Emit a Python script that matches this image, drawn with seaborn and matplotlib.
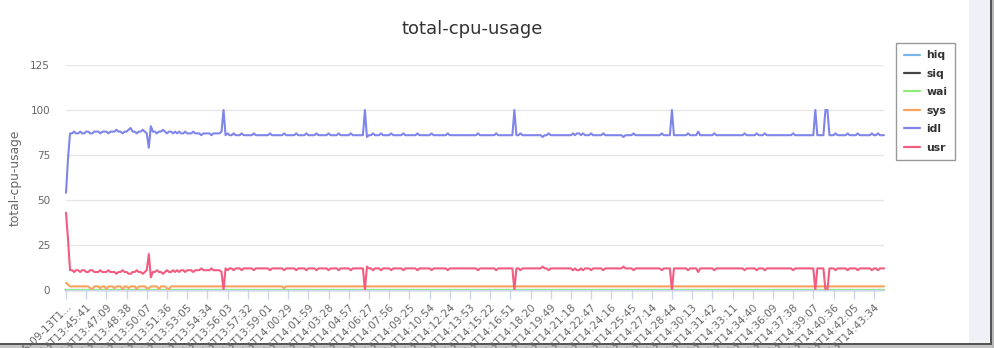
import numpy as np
import pandas as pd
import matplotlib
matplotlib.use("Agg")
import matplotlib.pyplot as plt
import seaborn as sns
from matplotlib.patches import Rectangle

series_names = ["hiq", "siq", "wai", "sys", "idl", "usr"]
series_colors = ["#7cb5ec", "#434348", "#90ed7d", "#f7a35c", "#8085e9", "#f15c80"]

tick_labels = [
    "2015-09-13T1...", "2015-09-13T13:45:41", "2015-09-13T13:47:09", "2015-09-13T13:48:38",
    "2015-09-13T13:50:07", "2015-09-13T13:51:36", "2015-09-13T13:53:05", "2015-09-13T13:54:34",
    "2015-09-13T13:56:03", "2015-09-13T13:57:32", "2015-09-13T13:59:01", "2015-09-13T14:00:29",
    "2015-09-13T14:01:59", "2015-09-13T14:03:28", "2015-09-13T14:04:57", "2015-09-13T14:06:27",
    "2015-09-13T14:07:56", "2015-09-13T14:09:25", "2015-09-13T14:10:54", "2015-09-13T14:12:24",
    "2015-09-13T14:13:53", "2015-09-13T14:15:22", "2015-09-13T14:16:51", "2015-09-13T14:18:20",
    "2015-09-13T14:19:49", "2015-09-13T14:21:18", "2015-09-13T14:22:47", "2015-09-13T14:24:16",
    "2015-09-13T14:25:45", "2015-09-13T14:27:14", "2015-09-13T14:28:44", "2015-09-13T14:30:13",
    "2015-09-13T14:31:42", "2015-09-13T14:33:11", "2015-09-13T14:34:40", "2015-09-13T14:36:09",
    "2015-09-13T14:37:38", "2015-09-13T14:39:07", "2015-09-13T14:40:36", "2015-09-13T14:42:05",
    "2015-09-13T14:43:34",
]
samples_per_tick = 10

idl = [
    54, 73, 87, 87, 88, 87, 87, 88, 87, 87,
    88, 88, 87, 87, 88, 88, 88, 87, 88, 88,
    88, 87, 88, 88, 88, 89, 88, 88, 87, 88,
    88, 89, 90, 88, 88, 87, 88, 88, 89, 88,
    87, 79, 91, 88, 88, 87, 88, 88, 89, 88,
    87, 88, 88, 87, 88, 87, 88, 87, 87, 88,
    87, 87, 87, 88, 87, 87, 87, 86, 87, 87,
    87, 87, 86, 87, 87, 87, 87, 88, 100, 86,
    87, 86, 86, 87, 86, 86, 86, 87, 86, 86,
    86, 86, 86, 87, 86, 86, 86, 86, 86, 86,
    86, 87, 86, 86, 86, 86, 86, 86, 87, 86,
    86, 86, 86, 86, 87, 86, 86, 86, 86, 87,
    86, 86, 86, 86, 87, 86, 86, 86, 86, 86,
    87, 86, 86, 86, 86, 87, 86, 86, 86, 86,
    86, 87, 86, 86, 86, 86, 86, 86, 100, 85,
    86, 86, 87, 86, 86, 86, 87, 86, 86, 86,
    86, 87, 86, 86, 86, 86, 86, 87, 86, 86,
    86, 86, 86, 86, 87, 86, 86, 86, 86, 86,
    86, 87, 86, 86, 86, 86, 86, 86, 86, 87,
    86, 86, 86, 86, 86, 86, 86, 86, 86, 86,
    86, 86, 86, 86, 87, 86, 86, 86, 86, 86,
    86, 86, 86, 87, 86, 86, 86, 86, 86, 86,
    86, 86, 100, 86, 86, 87, 86, 86, 86, 86,
    86, 86, 86, 86, 86, 86, 85, 86, 86, 87,
    86, 86, 86, 86, 86, 86, 86, 86, 86, 86,
    86, 87, 86, 87, 87, 86, 87, 86, 86, 86,
    87, 86, 86, 86, 86, 86, 87, 86, 86, 86,
    86, 86, 86, 86, 86, 86, 85, 86, 86, 86,
    86, 87, 86, 86, 86, 86, 86, 86, 86, 86,
    86, 86, 86, 86, 86, 87, 86, 86, 86, 86,
    100, 86, 86, 86, 86, 86, 86, 86, 87, 86,
    86, 86, 86, 88, 86, 86, 86, 86, 86, 86,
    86, 87, 86, 86, 86, 86, 86, 86, 86, 86,
    86, 86, 86, 86, 86, 86, 87, 86, 86, 86,
    86, 86, 87, 86, 86, 86, 87, 86, 86, 86,
    86, 86, 86, 86, 86, 86, 86, 86, 86, 86,
    87, 86, 86, 86, 86, 86, 86, 86, 86, 86,
    86, 100, 86, 86, 86, 86, 100, 100, 86, 86,
    86, 87, 86, 86, 86, 86, 86, 87, 86, 86,
    86, 86, 87, 86, 86, 86, 86, 86, 86, 87,
    86, 86, 87, 86, 86, 86,
]

usr = [
    43, 28, 11, 11, 10, 11, 11, 10, 11, 11,
    10, 10, 11, 11, 10, 10, 10, 11, 10, 10,
    10, 11, 10, 10, 10, 9, 10, 10, 11, 10,
    10, 9, 9, 10, 10, 11, 10, 10, 9, 10,
    11, 20, 7, 10, 10, 11, 10, 10, 9, 10,
    11, 10, 10, 11, 10, 11, 10, 11, 11, 10,
    11, 11, 11, 10, 11, 11, 11, 12, 11, 11,
    11, 11, 12, 11, 11, 11, 11, 10, 0, 12,
    11, 12, 12, 11, 12, 12, 12, 11, 12, 12,
    12, 12, 12, 11, 12, 12, 12, 12, 12, 12,
    12, 11, 12, 12, 12, 12, 12, 12, 11, 12,
    12, 12, 12, 12, 11, 12, 12, 12, 12, 11,
    12, 12, 12, 12, 11, 12, 12, 12, 12, 12,
    11, 12, 12, 12, 12, 11, 12, 12, 12, 12,
    12, 11, 12, 12, 12, 12, 12, 12, 0, 13,
    12, 12, 11, 12, 12, 12, 11, 12, 12, 12,
    12, 11, 12, 12, 12, 12, 12, 11, 12, 12,
    12, 12, 12, 12, 11, 12, 12, 12, 12, 12,
    12, 11, 12, 12, 12, 12, 12, 12, 12, 11,
    12, 12, 12, 12, 12, 12, 12, 12, 12, 12,
    12, 12, 12, 12, 11, 12, 12, 12, 12, 12,
    12, 12, 12, 11, 12, 12, 12, 12, 12, 12,
    12, 12, 0, 12, 12, 11, 12, 12, 12, 12,
    12, 12, 12, 12, 12, 12, 13, 12, 12, 11,
    12, 12, 12, 12, 12, 12, 12, 12, 12, 12,
    12, 11, 12, 11, 11, 12, 11, 12, 12, 12,
    11, 12, 12, 12, 12, 12, 11, 12, 12, 12,
    12, 12, 12, 12, 12, 12, 13, 12, 12, 12,
    12, 11, 12, 12, 12, 12, 12, 12, 12, 12,
    12, 12, 12, 12, 12, 11, 12, 12, 12, 12,
    0, 12, 12, 12, 12, 12, 12, 12, 11, 12,
    12, 12, 12, 10, 12, 12, 12, 12, 12, 12,
    12, 11, 12, 12, 12, 12, 12, 12, 12, 12,
    12, 12, 12, 12, 12, 12, 11, 12, 12, 12,
    12, 12, 11, 12, 12, 12, 11, 12, 12, 12,
    12, 12, 12, 12, 12, 12, 12, 12, 12, 12,
    11, 12, 12, 12, 12, 12, 12, 12, 12, 12,
    12, 0, 12, 12, 12, 12, 0, 0, 12, 12,
    12, 11, 12, 12, 12, 12, 12, 11, 12, 12,
    12, 12, 11, 12, 12, 12, 12, 12, 12, 11,
    12, 12, 11, 12, 12, 12,
]

sys_ = [
    4, 3, 2, 2, 2, 2, 2, 2, 2, 2,
    2, 2, 1, 0.5, 2, 2, 2, 1, 2, 2,
    0.5, 2, 2, 2, 1, 2, 2, 2, 0.5, 2,
    2, 1, 2, 2, 2, 0.5, 2, 2, 2, 2,
    1, 1, 2, 2, 2, 2, 0.5, 2, 2, 2,
    1, 0.5, 2, 2, 2, 2, 2, 2, 2, 2,
    2, 2, 2, 2, 2, 2, 2, 2, 2, 2,
    2, 2, 2, 2, 2, 2, 2, 2, 2, 2,
    2, 2, 2, 2, 2, 2, 2, 2, 2, 2,
    2, 2, 2, 2, 2, 2, 2, 2, 2, 2,
    2, 2, 2, 2, 2, 2, 2, 2, 1, 2,
    2, 2, 2, 2, 2, 2, 2, 2, 2, 2,
    2, 2, 2, 2, 2, 2, 2, 2, 2, 2,
    2, 2, 2, 2, 2, 2, 2, 2, 2, 2,
    2, 2, 2, 2, 2, 2, 2, 2, 2, 2,
    2, 2, 2, 2, 2, 2, 2, 2, 2, 2,
    2, 2, 2, 2, 2, 2, 2, 2, 2, 2,
    2, 2, 2, 2, 2, 2, 2, 2, 2, 2,
    2, 2, 2, 2, 2, 2, 2, 2, 2, 2,
    2, 2, 2, 2, 2, 2, 2, 2, 2, 2,
    2, 2, 2, 2, 2, 2, 2, 2, 2, 2,
    2, 2, 2, 2, 2, 2, 2, 2, 2, 2,
    2, 2, 2, 2, 2, 2, 2, 2, 2, 2,
    2, 2, 2, 2, 2, 2, 2, 2, 2, 2,
    2, 2, 2, 2, 2, 2, 2, 2, 2, 2,
    2, 2, 2, 2, 2, 2, 2, 2, 2, 2,
    2, 2, 2, 2, 2, 2, 2, 2, 2, 2,
    2, 2, 2, 2, 2, 2, 2, 2, 2, 2,
    2, 2, 2, 2, 2, 2, 2, 2, 2, 2,
    2, 2, 2, 2, 2, 2, 2, 2, 2, 2,
    2, 2, 2, 2, 2, 2, 2, 2, 2, 2,
    2, 2, 2, 2, 2, 2, 2, 2, 2, 2,
    2, 2, 2, 2, 2, 2, 2, 2, 2, 2,
    2, 2, 2, 2, 2, 2, 2, 2, 2, 2,
    2, 2, 2, 2, 2, 2, 2, 2, 2, 2,
    2, 2, 2, 2, 2, 2, 2, 2, 2, 2,
    2, 2, 2, 2, 2, 2, 2, 2, 2, 2,
    2, 2, 2, 2, 2, 2, 2, 2, 2, 2,
    2, 2, 2, 2, 2, 2, 2, 2, 2, 2,
    2, 2, 2, 2, 2, 2, 2, 2, 2, 2,
    2, 2, 2, 2, 2, 2,
]

wai = [
    0, 0, 0, 0, 0, 0, 0, 0, 0, 0, 0, 0, 0, 0, 0, 0, 0, 0, 0, 0, 0, 0, 0, 0, 0, 0, 0, 0, 0,
    0, 0, 0, 0, 0, 0, 0, 0, 0, 0, 0, 0, 0, 0, 0, 0, 0, 0, 0, 0, 0, 0, 0, 0, 0, 0, 0, 0, 0,
    0, 0, 0, 0, 0, 0, 0, 0, 0, 0, 0, 0, 0, 0, 0, 0, 0, 0, 0, 0, 0, 0, 0, 0, 0, 0, 0, 0, 0,
    0, 0, 0, 0, 0, 0, 0, 0, 0, 0, 0, 0, 0, 0, 0, 0, 0, 0, 0, 0, 0, 0, 0, 0, 0, 0, 0, 0, 0,
    0, 0, 0, 0, 0, 0, 0, 0, 0, 0, 0, 0, 0, 0, 0, 0, 0, 0, 0, 0, 0, 0, 0, 0, 0, 0, 0, 0, 0,
    0, 0, 0, 0, 0, 0, 0, 0, 0, 0, 0, 0, 0, 0, 0, 0, 0, 0, 0, 0, 0, 0, 0, 0, 0, 0, 0, 0, 0,
    0, 0, 0, 0, 0, 0, 0, 0, 0, 0, 0, 0, 0, 0, 0, 0, 0, 0, 0, 0, 0, 0, 0, 0, 0, 0, 0, 0, 0,
    0, 0, 0, 0, 0, 0, 0, 0, 0, 0, 0, 0, 0, 0, 0, 0, 0, 0, 0, 0, 0, 0, 0, 0, 0, 0, 0, 0, 0,
    0, 0, 0, 0, 0, 0, 0, 0, 0, 0, 0, 0, 0, 0, 0, 0, 0, 0, 0, 0, 0, 0, 0, 0, 0, 0, 0, 0, 0,
    0, 0, 0, 0, 0, 0, 0, 0, 0, 0, 0, 0, 0, 0, 0, 0, 0, 0, 0, 0, 0, 0, 0, 0, 0, 0, 0, 0, 0,
    0, 0, 0, 0, 0, 0, 0, 0, 0, 0, 0, 0, 0, 0, 0, 0, 0, 0, 0, 0, 0, 0, 0, 0, 0, 0, 0, 0, 0,
    0, 0, 0, 0, 0, 0, 0, 0, 0, 0, 0, 0, 0, 0, 0, 0, 0, 0, 0, 0, 0, 0, 0, 0, 0, 0, 0, 0, 0,
    0, 0, 0, 0, 0, 0, 0, 0, 0, 0, 0, 0, 0, 0, 0, 0, 0, 0, 0, 0, 0, 0, 0, 0, 0, 0, 0, 0, 0,
    0, 0, 0, 0, 0, 0, 0, 0, 0, 0, 0, 0, 0, 0, 0, 0, 0, 0, 0, 0, 0, 0, 0, 0, 0, 0, 0, 0, 0,
]

siq = [
    0, 0, 0, 0, 0, 0, 0, 0, 0, 0, 0, 0, 0, 0, 0, 0, 0, 0, 0, 0, 0, 0, 0, 0, 0, 0, 0, 0, 0,
    0, 0, 0, 0, 0, 0, 0, 0, 0, 0, 0, 0, 0, 0, 0, 0, 0, 0, 0, 0, 0, 0, 0, 0, 0, 0, 0, 0, 0,
    0, 0, 0, 0, 0, 0, 0, 0, 0, 0, 0, 0, 0, 0, 0, 0, 0, 0, 0, 0, 0, 0, 0, 0, 0, 0, 0, 0, 0,
    0, 0, 0, 0, 0, 0, 0, 0, 0, 0, 0, 0, 0, 0, 0, 0, 0, 0, 0, 0, 0, 0, 0, 0, 0, 0, 0, 0, 0,
    0, 0, 0, 0, 0, 0, 0, 0, 0, 0, 0, 0, 0, 0, 0, 0, 0, 0, 0, 0, 0, 0, 0, 0, 0, 0, 0, 0, 0,
    0, 0, 0, 0, 0, 0, 0, 0, 0, 0, 0, 0, 0, 0, 0, 0, 0, 0, 0, 0, 0, 0, 0, 0, 0, 0, 0, 0, 0,
    0, 0, 0, 0, 0, 0, 0, 0, 0, 0, 0, 0, 0, 0, 0, 0, 0, 0, 0, 0, 0, 0, 0, 0, 0, 0, 0, 0, 0,
    0, 0, 0, 0, 0, 0, 0, 0, 0, 0, 0, 0, 0, 0, 0, 0, 0, 0, 0, 0, 0, 0, 0, 0, 0, 0, 0, 0, 0,
    0, 0, 0, 0, 0, 0, 0, 0, 0, 0, 0, 0, 0, 0, 0, 0, 0, 0, 0, 0, 0, 0, 0, 0, 0, 0, 0, 0, 0,
    0, 0, 0, 0, 0, 0, 0, 0, 0, 0, 0, 0, 0, 0, 0, 0, 0, 0, 0, 0, 0, 0, 0, 0, 0, 0, 0, 0, 0,
    0, 0, 0, 0, 0, 0, 0, 0, 0, 0, 0, 0, 0, 0, 0, 0, 0, 0, 0, 0, 0, 0, 0, 0, 0, 0, 0, 0, 0,
    0, 0, 0, 0, 0, 0, 0, 0, 0, 0, 0, 0, 0, 0, 0, 0, 0, 0, 0, 0, 0, 0, 0, 0, 0, 0, 0, 0, 0,
    0, 0, 0, 0, 0, 0, 0, 0, 0, 0, 0, 0, 0, 0, 0, 0, 0, 0, 0, 0, 0, 0, 0, 0, 0, 0, 0, 0, 0,
    0, 0, 0, 0, 0, 0, 0, 0, 0, 0, 0, 0, 0, 0, 0, 0, 0, 0, 0, 0, 0, 0, 0, 0, 0, 0, 0, 0, 0,
]

hiq = [
    0, 0, 0, 0, 0, 0, 0, 0, 0, 0, 0, 0, 0, 0, 0, 0, 0, 0, 0, 0, 0, 0, 0, 0, 0, 0, 0, 0, 0,
    0, 0, 0, 0, 0, 0, 0, 0, 0, 0, 0, 0, 0, 0, 0, 0, 0, 0, 0, 0, 0, 0, 0, 0, 0, 0, 0, 0, 0,
    0, 0, 0, 0, 0, 0, 0, 0, 0, 0, 0, 0, 0, 0, 0, 0, 0, 0, 0, 0, 0, 0, 0, 0, 0, 0, 0, 0, 0,
    0, 0, 0, 0, 0, 0, 0, 0, 0, 0, 0, 0, 0, 0, 0, 0, 0, 0, 0, 0, 0, 0, 0, 0, 0, 0, 0, 0, 0,
    0, 0, 0, 0, 0, 0, 0, 0, 0, 0, 0, 0, 0, 0, 0, 0, 0, 0, 0, 0, 0, 0, 0, 0, 0, 0, 0, 0, 0,
    0, 0, 0, 0, 0, 0, 0, 0, 0, 0, 0, 0, 0, 0, 0, 0, 0, 0, 0, 0, 0, 0, 0, 0, 0, 0, 0, 0, 0,
    0, 0, 0, 0, 0, 0, 0, 0, 0, 0, 0, 0, 0, 0, 0, 0, 0, 0, 0, 0, 0, 0, 0, 0, 0, 0, 0, 0, 0,
    0, 0, 0, 0, 0, 0, 0, 0, 0, 0, 0, 0, 0, 0, 0, 0, 0, 0, 0, 0, 0, 0, 0, 0, 0, 0, 0, 0, 0,
    0, 0, 0, 0, 0, 0, 0, 0, 0, 0, 0, 0, 0, 0, 0, 0, 0, 0, 0, 0, 0, 0, 0, 0, 0, 0, 0, 0, 0,
    0, 0, 0, 0, 0, 0, 0, 0, 0, 0, 0, 0, 0, 0, 0, 0, 0, 0, 0, 0, 0, 0, 0, 0, 0, 0, 0, 0, 0,
    0, 0, 0, 0, 0, 0, 0, 0, 0, 0, 0, 0, 0, 0, 0, 0, 0, 0, 0, 0, 0, 0, 0, 0, 0, 0, 0, 0, 0,
    0, 0, 0, 0, 0, 0, 0, 0, 0, 0, 0, 0, 0, 0, 0, 0, 0, 0, 0, 0, 0, 0, 0, 0, 0, 0, 0, 0, 0,
    0, 0, 0, 0, 0, 0, 0, 0, 0, 0, 0, 0, 0, 0, 0, 0, 0, 0, 0, 0, 0, 0, 0, 0, 0, 0, 0, 0, 0,
    0, 0, 0, 0, 0, 0, 0, 0, 0, 0, 0, 0, 0, 0, 0, 0, 0, 0, 0, 0, 0, 0, 0, 0, 0, 0, 0, 0, 0,
]

y_ticks = [0, 25, 50, 75, 100, 125]

# ---------------------------------------------------------------
series_values = {"hiq": hiq, "siq": siq, "wai": wai, "sys": sys_, "idl": idl, "usr": usr}
frames = []
for name in series_names:
    vals = series_values[name]
    frames.append(pd.DataFrame({"idx": np.arange(len(vals)), "value": vals, "series": name}))
df = pd.concat(frames, ignore_index=True)
n_points = len(idl)

sns.set_theme(style="white")
plt.rcParams["font.family"] = ["DejaVu Sans"]

W, H = 994, 348
fig = plt.figure(figsize=(W / 100, H / 100), dpi=100, facecolor="white")

# screenshot frame decorations
fig.patches.append(Rectangle((969 / W, 5 / H), 21 / W, 1 - 5 / H, transform=fig.transFigure,
                             facecolor="#eef2f6", edgecolor="none", zorder=-5))
fig.patches.append(Rectangle((990 / W, 0), 2 / W, 1, transform=fig.transFigure,
                             facecolor="#555555", edgecolor="none", zorder=-4))
fig.patches.append(Rectangle((992 / W, 0), 2 / W, 1, transform=fig.transFigure,
                             facecolor="#b8b8b8", edgecolor="none", zorder=-4))
fig.patches.append(Rectangle((0, 3 / H), 992 / W, 2 / H, transform=fig.transFigure,
                             facecolor="#555555", edgecolor="none", zorder=-4))
fig.patches.append(Rectangle((0, 0), 992 / W, 3 / H, transform=fig.transFigure,
                             facecolor="#c4c4c4", edgecolor="none", zorder=-4))

ax = fig.add_axes([66 / W, 58 / H, 818 / W, 225 / H])
ax.set_facecolor("none")

sns.lineplot(data=df, x="idx", y="value", hue="series", hue_order=series_names,
             palette=series_colors, linewidth=1.5, ax=ax, sort=False, estimator=None)

for ln in ax.lines:
    ln.set_clip_on(False)
    ln.set_solid_joinstyle("round")

ax.set_xlim(0, n_points - 1)
ax.set_ylim(0, 125)
ax.set_yticks(y_ticks)
ax.yaxis.grid(True, color="#e6e6e6", linewidth=1)
ax.xaxis.grid(False)
ax.set_axisbelow(True)
for s in ["top", "right", "left"]:
    ax.spines[s].set_visible(False)
ax.spines["bottom"].set_color("#ccd6eb")
ax.spines["bottom"].set_linewidth(1)

tick_pos = np.arange(len(tick_labels)) * samples_per_tick
ax.set_xticks(tick_pos)
ax.set_xticklabels(tick_labels)
for lbl in ax.get_xticklabels():
    lbl.set_rotation(45)
    lbl.set_ha("right")
    lbl.set_va("top")
    lbl.set_rotation_mode("anchor")
ax.tick_params(axis="x", length=6.5, width=1, color="#ccd6eb", labelsize=7.5,
               labelcolor="#666666", pad=2, direction="out", bottom=True)
ax.tick_params(axis="y", length=0, labelsize=7.5, labelcolor="#666666", pad=11.5)

ax.set_xlabel("")
ax.set_ylabel("total-cpu-usage", fontsize=8.8, color="#666666", va="center")
ax.yaxis.set_label_coords(-(66 - 15) / 818, 0.5)

fig.text(472.5 / W, 1 - 29 / H, "total-cpu-usage", ha="center", va="center",
         fontsize=13, color="#333333")

handles, labels = ax.get_legend_handles_labels()
if ax.get_legend() is not None:
    ax.get_legend().remove()
leg = ax.legend(handles, labels, loc="upper left", bbox_to_anchor=(896 / W, 1 - 42.5 / H),
                bbox_transform=fig.transFigure, borderaxespad=0, frameon=True,
                fancybox=False, framealpha=1, edgecolor="#999999", facecolor="white",
                prop={"size": 7.8, "weight": "bold"}, handlelength=1.5,
                handletextpad=0.6, labelspacing=0.78, borderpad=0.72)
leg.get_frame().set_linewidth(1)
for t in leg.get_texts():
    t.set_color("#333333")
for h in leg.get_lines():
    h.set_linewidth(1.6)

fig.savefig("out.png", dpi=100, facecolor="white")
